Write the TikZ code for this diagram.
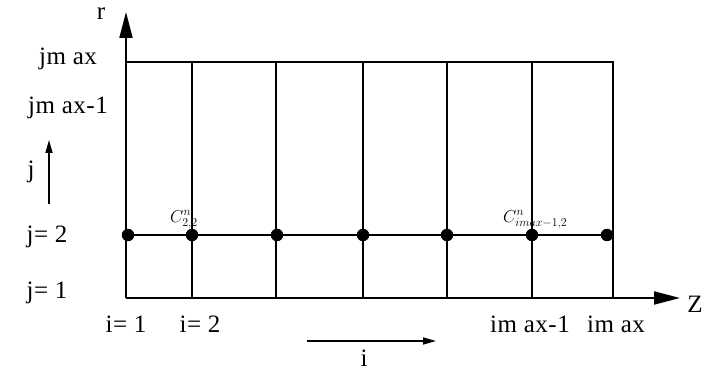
\documentclass[tikz,border=0pt]{standalone}
\usepackage{fontspec}
\setmainfont{Liberation Serif}
\newfontfamily\labfont[LetterSpace=2]{Liberation Serif}
\usetikzlibrary{arrows.meta}
\begin{document}
\begin{tikzpicture}[x=1pt,y=-1pt,
  gridline/.style={line width=1.7pt},
  axisline/.style={line width=1.9pt,-{Triangle[width=13pt,length=26pt]}},
  smallarrow/.style={line width=1.5pt,-{Triangle[width=7pt,length=13pt]}},
  lab/.style={font=\labfont\fontsize{25}{27}\selectfont,inner sep=0pt},
  clab/.style={font=\fontsize{17}{19}\selectfont,inner sep=0pt},
  dot/.style={circle,fill=black,minimum size=12.5pt,inner sep=0pt}]
\useasboundingbox (0,0) rectangle (704,371);
% coordinates
\coordinate (O) at (126,298);
\coordinate (rtip) at (126,12);
\coordinate (ztip) at (680,298);
\coordinate (tl) at (126,62);
\coordinate (tr) at (613,62);
\coordinate (br) at (613,298);
\coordinate (ml) at (126,235);
\coordinate (mr) at (613,235);
% grid
\draw[gridline] (tl) -- (tr) -- (br);
\draw[gridline] (ml) -- (mr);
\foreach \x/\n in {192/a,276/b,363/c,447/d,532/e}{
  \coordinate (t\n) at (\x,62);
  \coordinate (b\n) at (\x,298);
  \draw[gridline] (t\n) -- (b\n);
}
% axes
\draw[axisline] (O) -- (rtip);
\draw[axisline] (O) -- (ztip);
% dots
\foreach \x/\n in {128/1,192/2,277/3,363/4,447/5,532/6,607/7}{
  \node[dot] (d\n) at (\x,235) {};
}
% labels
\node[lab] (rl) at (101,14) {r};
\node[lab] (zl) at (695,304) {Z};
\node[lab] (jmax) at (68,59) {jm ax};
\node[lab] (jmax1) at (68,108) {jm ax-1};
\node[lab] (jl) at (31,172) {j};
\node[lab] (j2) at (47,237) {j= 2};
\node[lab] (j1) at (47,293) {j= 1};
\node[lab] (i1) at (126,324) {i= 1};
\node[lab] (i2) at (200,324) {i= 2};
\node[lab] (imax1) at (530,324) {im ax-1};
\node[lab] (imax) at (616,324) {im ax};
\node[lab] (il) at (364,358) {i};
% small arrows
\coordinate (ja) at (49,204);
\coordinate (jb) at (49,140);
\draw[smallarrow] (ja) -- (jb);
\coordinate (ia) at (307,341);
\coordinate (ib) at (436,341);
\draw[smallarrow] (ia) -- (ib);
% C labels
\node[clab,anchor=south west] (c22) at (170,229) {$C^{n}_{2,2}$};
\node[clab,anchor=south west] (cim) at (503,229) {$C^{n}_{imax-1,2}$};
\end{tikzpicture}
\end{document}
